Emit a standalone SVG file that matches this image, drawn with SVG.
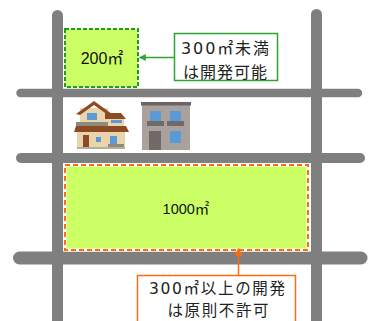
<svg xmlns="http://www.w3.org/2000/svg" width="370" height="321" viewBox="0 0 370 321">
  <style>
    .road { stroke: #7f7f7f; stroke-linecap: round; fill: none; }
    .lot { fill: #ccff66; }
    .label { font-family: "Liberation Sans", "Noto Sans CJK JP", sans-serif; fill: #111; text-anchor: middle; }
    .note { font-family: "DejaVu Sans", "Noto Sans CJK JP", sans-serif; fill: #222; text-anchor: middle; }
  </style>
  <defs>
    <marker id="arrow-green" viewBox="0 0 10 10" refX="9" refY="5" markerWidth="7" markerHeight="7" orient="auto" markerUnits="userSpaceOnUse">
      <path d="M0,0 L10,5 L0,10 Z" fill="#2ea52e"/>
    </marker>
    <marker id="arrow-orange" viewBox="0 0 10 10" refX="9" refY="5" markerWidth="8" markerHeight="8" orient="auto" markerUnits="userSpaceOnUse">
      <path d="M0,0 L10,5 L0,10 Z" fill="#ff6a13"/>
    </marker>
  </defs>
  <rect width="370" height="321" fill="#ffffff"/>

  <!-- street grid -->
  <g id="roads">
    <line class="road" x1="57.5" y1="15.5" x2="57.5" y2="340" stroke-width="11"/>
    <line class="road" x1="316.5" y1="14.5" x2="316.5" y2="340" stroke-width="11"/>
    <line class="road" x1="20.5" y1="93" x2="358" y2="93" stroke-width="8.5"/>
    <line class="road" x1="21" y1="158" x2="360" y2="158" stroke-width="10"/>
    <line class="road" x1="19.5" y1="258" x2="361" y2="258" stroke-width="13"/>
  </g>

  <!-- small parcel -->
  <g id="lot-small">
    <rect class="lot" x="65" y="29" width="73" height="58" stroke="#249a24" stroke-width="2" stroke-dasharray="4 2"/>
    <text class="label" x="102" y="64" font-size="16">200㎡</text>
  </g>

  <!-- large parcel -->
  <g id="lot-large">
    <rect class="lot" x="65" y="165" width="243" height="85" stroke="#ffffff" stroke-width="3"/>
    <rect x="65" y="165" width="243" height="85" fill="none" stroke="#ff6a13" stroke-width="2" stroke-dasharray="5 3"/>
    <text class="label" x="186" y="214" font-size="14.5">1000㎡</text>
  </g>

  <!-- detached house -->
  <g id="house">
    <rect x="80" y="108" width="28" height="15" fill="#e9d4ab"/>
    <polygon points="76,114 94,101 112,114 108,115 94,105 80,115" fill="#8c4b22"/>
    <rect x="87" y="113" width="10" height="7" fill="#5b9bd5"/>
    <rect x="107" y="118" width="17" height="8" fill="#e9d4ab"/>
    <polygon points="105,113 121,113 126,119 105,119" fill="#8c4b22"/>
    <rect x="111" y="120" width="11" height="3" fill="#5b9bd5"/>
    <rect x="76" y="122" width="32" height="4" fill="#8e8a80"/>
    <rect x="77" y="131" width="48" height="16" fill="#e9d4ab"/>
    <polygon points="76,126 126,126 129,132 74,132" fill="#8c4b22"/>
    <rect x="83" y="135" width="6" height="12" fill="#8c4b22"/>
    <rect x="96" y="137" width="5" height="5" fill="#5b9bd5"/>
    <rect x="110" y="136" width="7" height="8" fill="#5b9bd5"/>
    <rect x="108" y="144" width="16" height="4" fill="#8e8a80"/>
    <rect x="77" y="147" width="48" height="2" fill="#b9ae98"/>
  </g>

  <!-- apartment building -->
  <g id="building">
    <rect x="142" y="105" width="48" height="45" fill="#aaa19c"/>
    <rect x="141" y="102" width="50" height="3.5" fill="#6b6565"/>
    <rect x="150" y="111" width="11" height="10" fill="#5b9bd5"/>
    <rect x="170" y="111" width="11" height="10" fill="#5b9bd5"/>
    <rect x="147" y="121" width="17" height="5" fill="#706a68"/>
    <rect x="167" y="121" width="17" height="5" fill="#706a68"/>
    <rect x="149" y="131" width="12" height="19" fill="#6f6a69"/>
    <rect x="170" y="131" width="11" height="12" fill="#5b9bd5"/>
  </g>

  <!-- notes -->
  <g id="note-allowed">
    <rect x="174.5" y="33.5" width="103" height="47" fill="#ffffff" stroke="#2ea52e" stroke-width="1.5"/>
    <text class="note" x="225" y="54" font-size="16" textLength="88" lengthAdjust="spacing">300㎡未満</text>
    <text class="note" x="225" y="77.5" font-size="16" textLength="84" lengthAdjust="spacing">は開発可能</text>
  </g>
  <g id="note-restricted">
    <rect x="137.5" y="275.5" width="158" height="50" fill="#ffffff" stroke="#ff6a13" stroke-width="1.5"/>
    <text class="note" x="217" y="293.9" font-size="15.5" textLength="136" lengthAdjust="spacing">300㎡以上の開発</text>
    <text class="note" x="218" y="316.4" font-size="15.5" textLength="101" lengthAdjust="spacing">は原則不許可</text>
  </g>

  <!-- connectors -->
  <g id="connectors">
    <line x1="174" y1="57.5" x2="139.5" y2="57.5" stroke="#2ea52e" stroke-width="1.5" marker-end="url(#arrow-green)"/>
    <line x1="238.5" y1="275" x2="238.5" y2="248.5" stroke="#ff6a13" stroke-width="1.5" marker-end="url(#arrow-orange)"/>
  </g>
</svg>
